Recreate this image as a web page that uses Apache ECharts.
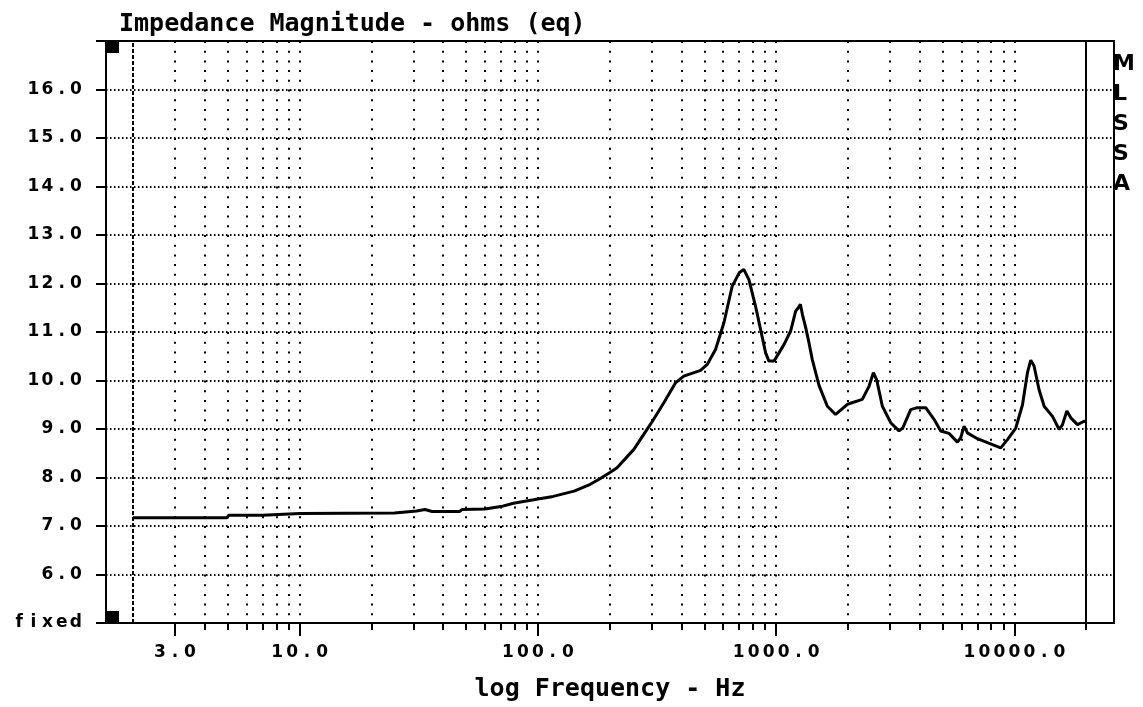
<!DOCTYPE html>
<html>
<head>
<meta charset="utf-8">
<script src="https://cdn.jsdelivr.net/npm/echarts@6/dist/echarts.min.js"></script>
<style>
html,body{margin:0;padding:0;background:#fff;}
#chart{width:1143px;height:707px;}
</style>
</head>
<body>
<div id="chart"></div>
<script>
// Frequency (Hz) and impedance magnitude (ohms)
var freqHz = [2, 3, 4.95, 5.05, 7.0, 7.1, 10, 25, 25.3, 31, 33.6, 36, 47, 48, 60, 70, 79, 96, 116, 142, 166, 183, 200, 215, 253, 300, 338, 378, 410, 482, 514, 557, 604, 654, 700, 732, 769, 820, 861, 904, 933, 980, 1079, 1151, 1208, 1240, 1265, 1290, 1330, 1374, 1419, 1514, 1641, 1778, 1992, 2301, 2455, 2560, 2642, 2793, 3027, 3281, 3400, 3673, 3919, 4246, 4603, 4909, 5320, 5767, 5957, 6151, 6353, 6998, 7709, 8770, 9356, 10140, 10820, 11350, 11720, 12100, 12700, 13340, 14460, 15420, 15930, 16610, 17260, 18400, 19620, 20000];
var impedance = [7.17, 7.17, 7.17, 7.22, 7.22, 7.24, 7.26, 7.27, 7.30, 7.31, 7.34, 7.30, 7.30, 7.34, 7.35, 7.40, 7.47, 7.54, 7.61, 7.72, 7.86, 7.98, 8.10, 8.20, 8.58, 9.13, 9.54, 9.95, 10.09, 10.21, 10.33, 10.64, 11.19, 11.94, 12.22, 12.29, 12.08, 11.53, 11.05, 10.57, 10.40, 10.40, 10.74, 11.02, 11.43, 11.50, 11.57, 11.36, 11.10, 10.78, 10.43, 9.90, 9.47, 9.30, 9.51, 9.61, 9.88, 10.16, 10.02, 9.47, 9.13, 8.96, 9.02, 9.40, 9.44, 9.44, 9.20, 8.96, 8.91, 8.73, 8.82, 9.06, 8.92, 8.80, 8.72, 8.61, 8.78, 9.02, 9.50, 10.16, 10.42, 10.30, 9.81, 9.47, 9.26, 8.99, 9.09, 9.37, 9.23, 9.09, 9.16, 9.15];
// Grid / tick frequencies
var gridFreqs = [3,4,5,6,7,8,9,10,20,30,40,50,60,70,80,90,100,200,300,400,500,600,700,800,900,1000,2000,3000,4000,5000,6000,7000,8000,9000,10000];
var minorTickFreqs = gridFreqs.concat([20000]);
var majorFreqs = [3, 10, 100, 1000, 10000];
var xMin = 1.54, xMax = 26200, yMin = 5, yMax = 17;
var startFreq = 2, endFreq = 20000;

var MONO = '"DejaVu Sans Mono", "Liberation Mono", monospace';
var WIDE = '"DejaVu Sans", Verdana, sans-serif';
var data = freqHz.map(function (f, i) { return [f, impedance[i]]; });

// render each character in a fixed-width cell (wide bitmap-style font look)
function cells(s) {
  return String(s).split('').map(function (c) { return '{c|' + c + '}'; }).join('');
}
var cellRichX = { c: { width: 15, align: 'center', fontFamily: WIDE, fontWeight: 'bold', fontSize: 17, color: '#000' } };
var cellRichY = { c: { width: 14.2, align: 'center', fontFamily: WIDE, fontWeight: 'bold', fontSize: 17, color: '#000' } };

var chart = echarts.init(document.getElementById('chart'));
chart.setOption({
  backgroundColor: '#fff',
  animation: false,
  title: {
    text: 'Impedance Magnitude - ohms (eq)',
    left: 114, top: 7,
    textStyle: { fontFamily: MONO, fontWeight: 'bold', fontSize: 25, color: '#000' }
  },
  graphic: [{
    type: 'text', left: 1113, top: 49,
    style: { text: 'M\nL\nS\nS\nA', font: 'bold 22px "DejaVu Sans", sans-serif', lineHeight: 30, fill: '#000', align: 'center' }
  }],
  grid: { left: 106, right: 29, top: 41, bottom: 84, show: true, borderColor: '#000', borderWidth: 2, backgroundColor: 'transparent' },
  xAxis: [{
    type: 'log', logBase: 10, min: xMin, max: xMax,
    name: 'log Frequency - Hz', nameLocation: 'middle', nameGap: 54,
    nameTextStyle: { fontFamily: MONO, fontWeight: 'bold', fontSize: 25, color: '#000' },
    axisLine: { show: true, onZero: false, lineStyle: { color: '#000', width: 2 } },
    axisTick: { show: true, customValues: minorTickFreqs, length: 7, lineStyle: { color: '#000', width: 2 } },
    axisLabel: { show: false },
    splitLine: { show: true, lineStyle: { color: '#000', width: 2, type: [2, 7.7] } },
    minorTick: { show: false }, minorSplitLine: { show: false }
  }, {
    type: 'log', logBase: 10, min: xMin, max: xMax, position: 'bottom',
    axisLine: { show: false },
    axisTick: { show: true, customValues: majorFreqs, length: 13, lineStyle: { color: '#000', width: 2 } },
    axisLabel: {
      show: true, customValues: majorFreqs, margin: 21,
      formatter: function (v) { return cells(Number(v).toFixed(1)); },
      rich: cellRichX
    },
    splitLine: { show: false }
  }],
  yAxis: {
    type: 'value', min: yMin, max: yMax, interval: 1,
    axisLine: { show: true, lineStyle: { color: '#000', width: 2 } },
    axisTick: { show: true, length: 10, lineStyle: { color: '#000', width: 2 } },
    axisLabel: {
      margin: 23,
      formatter: function (v) { return cells(v === yMin ? 'fixed' : (v === yMax ? '' : v.toFixed(1))); },
      rich: cellRichY
    },
    splitLine: { show: true, lineStyle: { color: '#000', width: 2, type: [1.5, 2.5] } }
  },
  series: [{
    type: 'line', data: data, xAxisIndex: 0, showSymbol: false, smooth: false,
    lineStyle: { color: '#000', width: 3 },
    markLine: {
      silent: true, symbol: ['none', 'none'], label: { show: false },
      data: [
        { xAxis: startFreq, lineStyle: { color: '#000', width: 2, type: [4, 2] } },
        { xAxis: endFreq, lineStyle: { color: '#000', width: 2, type: 'solid' } }
      ]
    }
  }, {
    type: 'scatter', xAxisIndex: 0, clip: false, symbol: 'rect', symbolSize: 12,
    itemStyle: { color: '#000', opacity: 1 },
    data: [
      { value: [xMin, yMax], symbolOffset: [7, 6] },
      { value: [xMin, yMin], symbolOffset: [7, -6] }
    ]
  }]
});
</script>
</body>
</html>
